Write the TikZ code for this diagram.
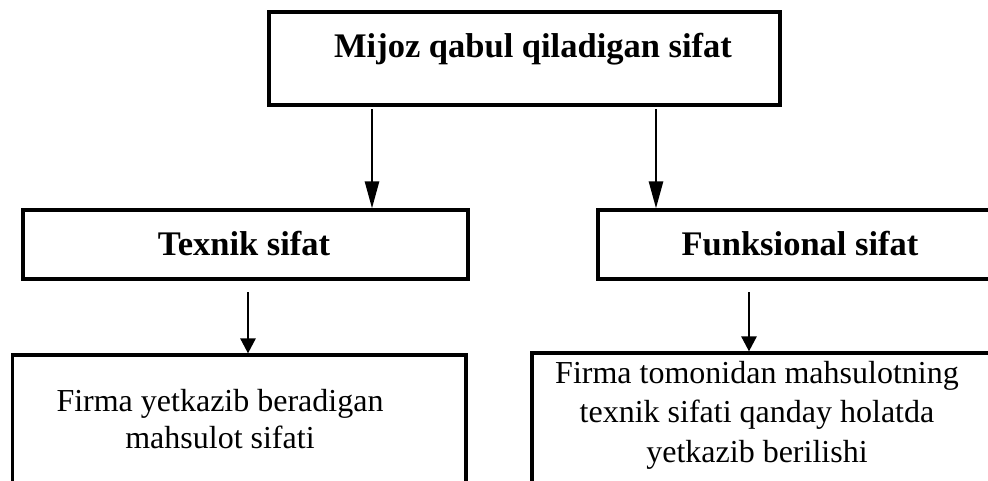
\documentclass[tikz,border=0pt]{standalone}
\usepackage{fontspec}
\setmainfont{Liberation Serif}
\usetikzlibrary{arrows.meta}

\tikzset{
  frame/.style={draw=black, line width=3.2pt, rectangle, inner sep=0pt, outer sep=0pt},
  head/.style={font=\fontsize{34.5}{40}\selectfont\bfseries, anchor=base, inner sep=0pt},
  body/.style={font=\fontsize{32}{#1}\selectfont, align=center, anchor=base, inner sep=0pt},
  longlink/.style={line width=2.6pt, -{Triangle[length=27pt,width=14pt]}, shorten >=1.6pt, shorten <=4pt},
  shortlink/.style={line width=2.6pt, -{Triangle[length=15pt,width=15pt]}, shorten >=1.6pt, shorten <=13pt},
}

\begin{document}
\begin{tikzpicture}[x=1pt,y=-1pt]
  \useasboundingbox (0,0) rectangle (988,480);
  \clip (0,0) rectangle (988,480);

  % boxes
  \node[frame, minimum width=511pt, minimum height=93pt] (top) at (524.5,58.5) {};
  \node[frame, minimum width=445pt, minimum height=69pt] (tech) at (245.5,244.5) {};
  \node[frame, minimum width=412pt, minimum height=69pt] (func) at (804,244.5) {};
  \node[frame, minimum width=453.5pt, minimum height=165pt] (techd) at (239.25,437.5) {};
  \node[frame, minimum width=478pt, minimum height=167pt] (funcd) at (771,436.5) {};

  % texts (multi-line nodes are anchored at the baseline of their last line)
  \node[head] (ttop) at (533,57) {Mijoz qabul qiladigan sifat};
  \node[head] (ttech) at (244,255) {Texnik sifat};
  \node[head] (tfunc) at (800,255) {Funksional sifat};
  \node[body=37pt] (ttechd) at (220,448) {Firma yetkazib beradigan\\mahsulot sifati};
  \node[body=39.5pt] (tfuncd) at (757,462) {Firma tomonidan mahsulotning\\texnik sifati qanday holatda\\yetkazib berilishi};

  % connectors
  \coordinate (xa) at (372,0);
  \coordinate (xb) at (656,0);
  \coordinate (xc) at (248,0);
  \coordinate (xd) at (749,0);
  \draw[longlink] (top.south -| xa) -- (tech.north -| xa);
  \draw[longlink] (top.south -| xb) -- (func.north -| xb);
  \draw[shortlink] (tech.south -| xc) -- (techd.north -| xc);
  \draw[shortlink] (func.south -| xd) -- (funcd.north -| xd);
\end{tikzpicture}
\end{document}
